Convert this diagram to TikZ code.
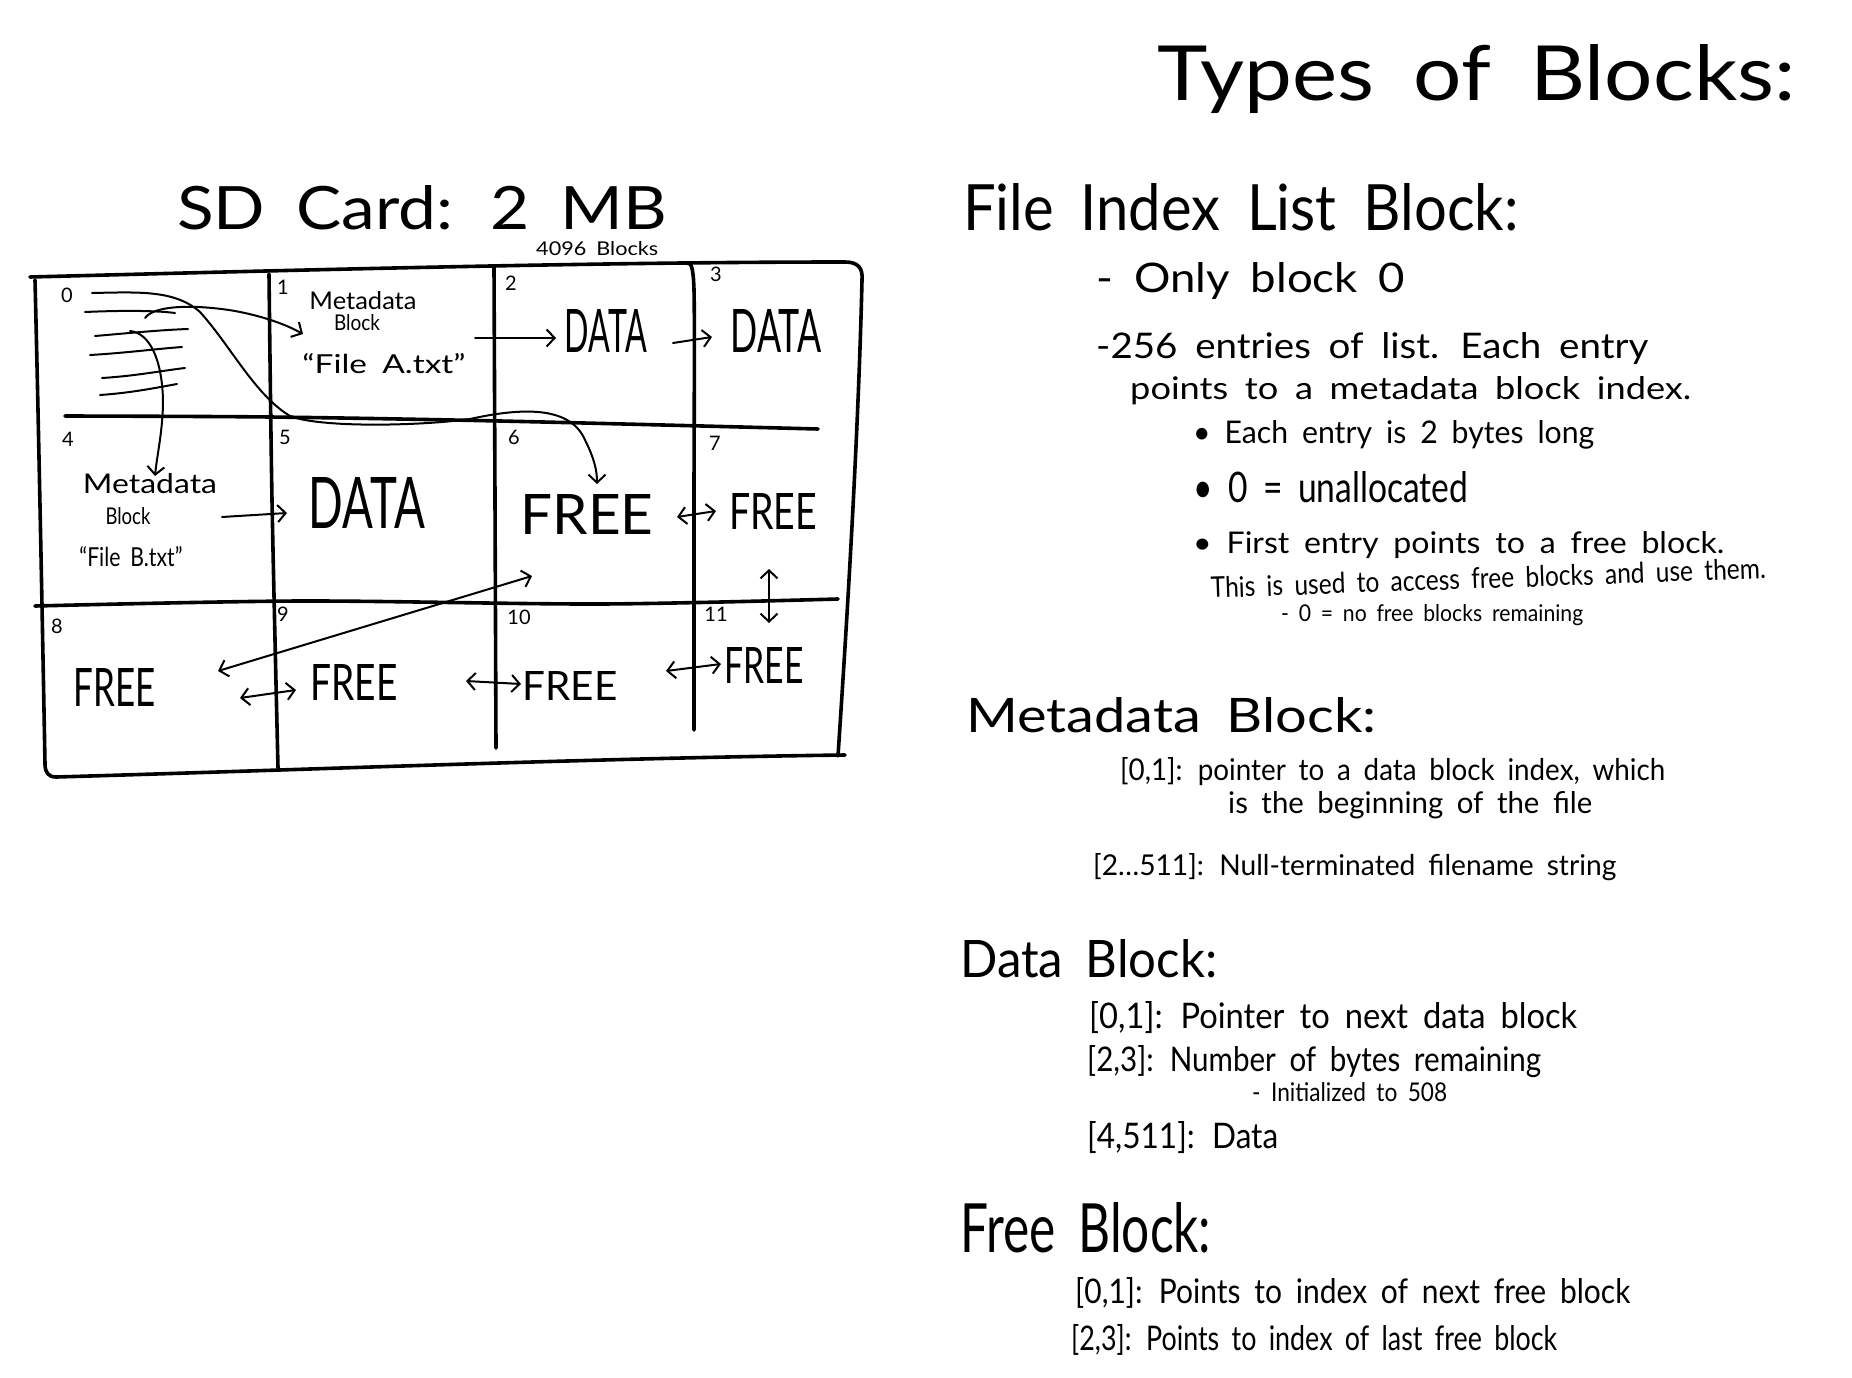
\documentclass[tikz,border=0pt]{standalone}
\usepackage{fontspec}
\usepackage{graphicx}
\setmainfont{Lato}[WordSpace=1.8]
\usetikzlibrary{arrows.meta}
\newcommand{\hw}[3]{\resizebox{#1pt}{#2pt}{#3}}
\tikzset{
  txt/.style={inner sep=0pt, anchor=base west},
  ctxt/.style={inner sep=0pt, anchor=center},
  num/.style={inner sep=0pt, anchor=center, font=\fontsize{20}{22}\selectfont},
  gridline/.style={line width=3.6pt, line cap=round, line join=round},
  ink/.style={line width=2pt, line cap=round, line join=round},
  barb/.tip={Straight Barb[length=8pt,width=17pt]},
  arr/.style={ink, -barb},
  darr/.style={ink, barb-barb},
}
\begin{document}
\begin{tikzpicture}[x=1pt,y=-1pt]
\fill[white] (0,0) rectangle (1852,1378);
\useasboundingbox (0,0) rectangle (1852,1378);

% ---------------- right column: types of blocks ----------------
\node[txt] (title) at (1157,100) {\hw{638}{56}{Types of Blocks:}};
\node[txt] (fil) at (963,230) {\hw{555}{47}{File Index List Block:}};
\node[txt] (only) at (1096,292) {\hw{309}{30}{- Only block 0}};
\node[txt] (e256) at (1096,358) {\hw{552}{26}{-256 entries of list. Each entry}};
\node[txt] (pts) at (1130,399) {\hw{561}{23}{points to a metadata block index.}};
\node[txt] (b1) at (1193,443) {\hw{401}{23}{• Each entry is 2 bytes long}};
\node[txt] (b2) at (1193,502) {\hw{275}{31}{• 0 = unallocated}};
\node[txt] (b3) at (1193,553) {\hw{531}{22}{• First entry points to a free block.}};
\node[txt, rotate=2.0] (b3b) at (1211,598) {\hw{555}{21}{This is used to access free blocks and use them.}};
\node[txt] (b3c) at (1281,621) {\hw{302}{17}{- 0 = no free blocks remaining}};

\node[txt] (meta) at (966,732) {\hw{410}{35}{Metadata Block:}};
\node[txt] (m1) at (1120,780) {\hw{545}{23}{[0,1]: pointer to a data block index, which}};
\node[txt] (m1b) at (1228,813) {\hw{364}{22}{is the beginning of the file}};
\node[txt] (m2) at (1093,875) {\hw{523}{22}{[2…511]: Null-terminated filename string}};

\node[txt] (datab) at (960,977) {\hw{257}{38}{Data Block:}};
\node[txt] (d1) at (1089,1028) {\hw{488}{27}{[0,1]: Pointer to next data block}};
\node[txt] (d2) at (1087,1071) {\hw{454}{26}{[2,3]: Number of bytes remaining}};
\node[txt] (d2b) at (1252,1101) {\hw{195}{19}{- Initialized to 508}};
\node[txt] (d3) at (1087,1148) {\hw{191}{27}{[4,511]: Data}};

\node[txt] (freeb) at (960,1252) {\hw{251}{50}{Free Block:}};
\node[txt] (f1) at (1075,1303) {\hw{555}{26}{[0,1]: Points to index of next free block}};
\node[txt] (f2) at (1071,1350) {\hw{486}{26}{[2,3]: Points to index of last free block}};

% ---------------- left: SD card ----------------
\node[txt] (sd) at (177,229) {\hw{490}{44}{SD Card: 2 MB}};
\node[txt] (nblk) at (536,255) {\hw{122}{14}{4096 Blocks}};

% outer border
\draw[gridline] (30,277) .. controls (300,270) and (600,262) .. (845,262)
  .. controls (858,262) and (863,268) .. (862,280)
  .. controls (858,450) and (845,650) .. (838,756);
\draw[gridline] (845,755) .. controls (600,758) and (300,770) .. (56,777)
  .. controls (48,777) and (45,772) .. (45,764)
  .. controls (42,600) and (38,400) .. (35,280);
% row dividers
\draw[gridline] plot[smooth] coordinates {(65,416) (270,417) (500,421) (818,429)};
\draw[gridline] plot[smooth] coordinates {(35,606) (300,601) (600,604) (838,599)};
% column dividers
\draw[gridline] plot[smooth] coordinates {(269,274) (272,500) (278,768)};
\draw[gridline] plot[smooth] coordinates {(494,267) (495,500) (496,748)};
\draw[gridline] plot[smooth] coordinates {(688,264) (694,290) (694,500) (694,730)};

% cell numbers
\node[num] (n0) at (67,295) {0};
\node[num] (n1) at (283,287) {1};
\node[num] (n2) at (511,283) {2};
\node[num] (n3) at (716,274) {3};
\node[num] (n4) at (68,439) {4};
\node[num] (n5) at (285,437) {5};
\node[num] (n6) at (514,437) {6};
\node[num] (n7) at (715,443) {7};
\node[num] (n8) at (57,626) {8};
\node[num] (n9) at (283,614) {9};
\node[num] (n10) at (519,617) {10};
\node[num] (n11) at (716,614) {11};

% cell contents
\node[ctxt] (c1a) at (363,301) {\hw{107}{18}{Metadata}};
\node[ctxt] (c1b) at (357,323) {\hw{46}{16}{Block}};
\node[ctxt] (c1c) at (384,364) {\hw{163}{20}{“File A.txt”}};
\node[ctxt] (c2) at (606,331) {\hw{82}{43}{DATA}};
\node[ctxt] (c3) at (776,331) {\hw{91}{43}{DATA}};
\node[ctxt] (c4a) at (150,484) {\hw{134}{20}{Metadata}};
\node[ctxt] (c4b) at (128,516) {\hw{45}{17}{Block}};
\node[ctxt] (c4c) at (131,557) {\hw{103}{20}{“File B.txt”}};
\node[ctxt] (c5) at (367,503) {\hw{116}{51}{DATA}};
\node[ctxt] (c6) at (587,514) {\hw{133}{40}{FREE}};
\node[ctxt] (c7) at (773,511) {\hw{88}{36}{FREE}};
\node[ctxt] (c8) at (115,687) {\hw{82}{38}{FREE}};
\node[ctxt] (c9) at (354,682) {\hw{87}{36}{FREE}};
\node[ctxt] (c10) at (570,686) {\hw{95}{29}{FREE}};
\node[ctxt] (c11) at (764,665) {\hw{79}{36}{FREE}};

% index list entries in block 0
\coordinate (e1s) at (92,293);
\coordinate (e1t) at (597,484);
\draw[arr] (e1s) .. controls (140,292) and (175,290) .. (200,312)
  .. controls (230,345) and (255,395) .. (290,416)
  .. controls (320,428) and (420,426) .. (470,419)
  .. controls (520,408) and (570,405) .. (585,440)
  .. controls (594,458) and (597,470) .. (e1t);
\draw[ink] (85,312) .. controls (130,310) and (160,311) .. (175,313);
\coordinate (e2s) at (145,318);
\coordinate (e2t) at (303,334);
\draw[arr] (e2s) .. controls (155,304) and (200,305) .. (235,311) .. controls (262,316) and (285,324) .. (e2t);
\draw[ink] (95,336) .. controls (130,333) and (160,330) .. (188,329);
\draw[ink] (90,355) .. controls (125,353) and (155,349) .. (182,347);
\draw[ink] (102,378) .. controls (135,376) and (160,371) .. (185,368);
\draw[ink] (100,395) .. controls (130,393) and (155,388) .. (177,384);
\coordinate (e3s) at (130,331);
\coordinate (e3t) at (155,476);
\draw[arr] (e3s) .. controls (150,333) and (162,360) .. (163,400) .. controls (163,430) and (157,455) .. (e3t);

% other connectors
\coordinate (a1s) at (475,338); \coordinate (a1t) at (556,338);
\draw[arr] (a1s) -- (a1t);
\coordinate (a2s) at (673,343); \coordinate (a2t) at (712,337);
\draw[arr] (a2s) -- (a2t);
\coordinate (a3s) at (222,517); \coordinate (a3t) at (287,513);
\draw[arr] (a3s) -- (a3t);
\coordinate (a4s) at (677,517); \coordinate (a4t) at (716,511);
\draw[darr] (a4s) -- (a4t);
\coordinate (a5s) at (769,569); \coordinate (a5t) at (769,623);
\draw[darr] (a5s) -- (a5t);
\coordinate (a6s) at (218,671); \coordinate (a6t) at (532,576);
\draw[darr] (a6s) -- (a6t);
\coordinate (a7s) at (240,698); \coordinate (a7t) at (296,690);
\draw[darr] (a7s) -- (a7t);
\coordinate (a8s) at (466,681); \coordinate (a8t) at (521,684);
\draw[darr] (a8s) -- (a8t);
\coordinate (a9s) at (666,671); \coordinate (a9t) at (721,664);
\draw[darr] (a9s) -- (a9t);
\end{tikzpicture}
\end{document}
